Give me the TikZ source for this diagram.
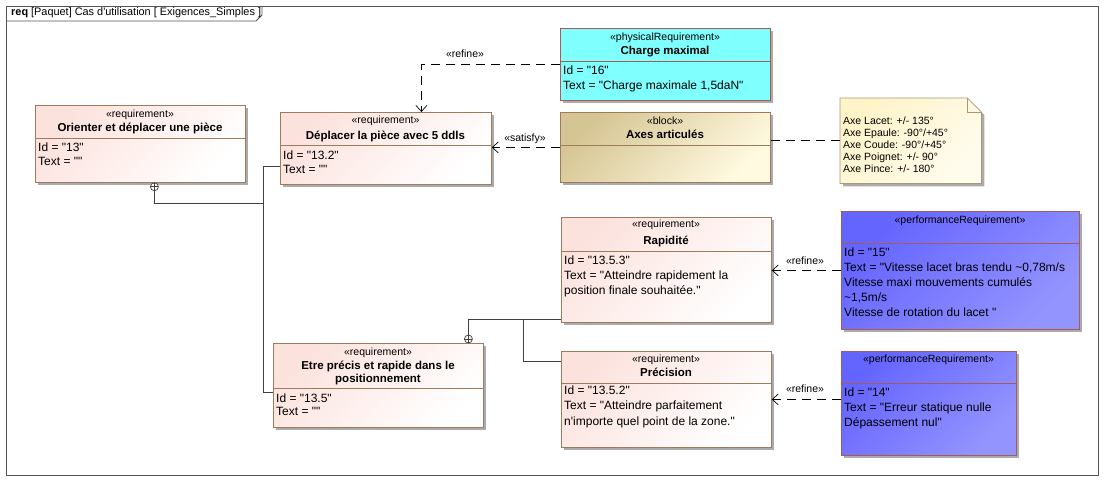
\documentclass[tikz,border=0pt]{standalone}
\usepackage{fontspec}
\newfontfamily\ui{Liberation Sans}
\usetikzlibrary{arrows.meta,shadows}
\definecolor{reqpink}{HTML}{FCE2DD}
\definecolor{reqborder}{HTML}{9C7C5C}
\definecolor{redborder}{HTML}{A85A55}
\definecolor{chargecyan}{HTML}{80FFFF}
\definecolor{blocktan}{HTML}{D6C594}
\definecolor{blocklight}{HTML}{FFFAE0}
\definecolor{notedark}{HTML}{FFF3C8}
\definecolor{notelight}{HTML}{FFFCEE}
\definecolor{noteborder}{HTML}{A89A78}
\definecolor{perfdark}{HTML}{6464FF}
\definecolor{perflight}{HTML}{9494FF}
\definecolor{shadowgray}{HTML}{ABABAB}
\definecolor{linegray}{HTML}{404040}
\definecolor{framegray}{HTML}{555555}
\newcommand\bodylines[5]{%
  \foreach \txt [count=\i from 0] in {#5} {\node[bodytxt] (#1-\i) at (#2, #3+#4*\i) {\txt};}}
\newcommand\divider[3]{%
  \draw[#3] ([yshift=-#2pt]#1.north west) -- ([yshift=-#2pt]#1.north east);}
\begin{document}
\begin{tikzpicture}[x=1pt,y=-1pt,
  box/.style={rectangle, inner sep=0, anchor=north west, line width=0.8pt,
    general shadow={fill=shadowgray, shadow xshift=3pt, shadow yshift=-3pt}},
  req/.style={box, draw=reqborder, top color=reqpink, bottom color=white, shading angle=45},
  phys/.style={box, draw=redborder, fill=chargecyan},
  blk/.style={box, draw=reqborder, top color=blocktan, bottom color=blocklight, shading angle=45},
  perf/.style={box, draw=redborder, top color=perfdark, bottom color=perflight, shading angle=45},
  reqline/.style={draw=reqborder, line width=0.8pt},
  redline/.style={draw=redborder, line width=0.8pt},
  stereotxt/.style={font=\ui\fontsize{10.5}{12}\selectfont, inner sep=0, anchor=mid},
  titletxt/.style={font=\ui\bfseries\fontsize{11.5}{13}\selectfont, inner sep=0, anchor=mid},
  bodytxt/.style={font=\ui\fontsize{12}{15}\selectfont, inner sep=0, anchor=mid west},
  notetxt/.style={font=\ui\fontsize{10.5}{12}\selectfont, inner sep=0, anchor=mid west},
  labtxt/.style={font=\ui\fontsize{10.5}{12}\selectfont, inner sep=0, anchor=mid},
  dep/.style={draw=black, line width=0.7pt, dash pattern=on 9pt off 6pt},
  deparrow/.style={dep, -{Straight Barb[length=6pt,width=11pt,line width=0.7pt]}},
  contain/.style={draw=linegray, line width=0.8pt},
  own/.style={circle, draw=linegray, line width=0.7pt, fill=white, minimum size=8pt, inner sep=0,
    path picture={\draw[linegray, line width=0.7pt] (path picture bounding box.north) -- (path picture bounding box.south)
      (path picture bounding box.west) -- (path picture bounding box.east);}},
  frameline/.style={draw=framegray, line width=0.8pt}
]
\useasboundingbox (0,0) rectangle (1113,490);
% frame
\draw[frameline] (6,6) rectangle (1098,475);
\draw[frameline] (6,21) -- (256,21) -- (262,15) -- (262,6);
\node[font=\ui\fontsize{10.9}{13}\selectfont, inner sep=0, anchor=mid west] (ftitle) at (11,13.5)
  {{\bfseries req} [Paquet] Cas d'utilisation [ Exigences\_Simples ]};

% Orienter
\node[req, minimum width=210pt, minimum height=77pt] (orient) at (35,105) {};
\divider{orient}{33}{reqline}
\node[stereotxt] (orient-s) at (140,115) {«requirement»};
\node[titletxt] (orient-t) at (140,129) {Orienter et déplacer une pièce};
\bodylines{orient}{38}{149}{14}{{Id = "13"},{Text = ""}}

% Deplacer
\node[req, minimum width=211pt, minimum height=72pt] (depl) at (280,112) {};
\divider{depl}{33}{reqline}
\node[stereotxt] (depl-s) at (385.5,121) {«requirement»};
\node[titletxt] (depl-t) at (385.5,137) {Déplacer la pièce avec 5 ddls};
\bodylines{depl}{283}{157}{14}{{Id = "13.2"},{Text = ""}}

% Charge maximal
\node[phys, minimum width=210pt, minimum height=72pt] (charge) at (560,28) {};
\divider{charge}{33}{redline}
\node[stereotxt] (charge-s) at (665,38) {«physicalRequirement»};
\node[titletxt] (charge-t) at (665,52) {Charge maximal};
\bodylines{charge}{563}{72}{15}{{Id = "16"},{Text = "Charge maximale 1,5daN"}}

% Axes articules
\node[blk, minimum width=210pt, minimum height=70pt] (axes) at (560,112) {};
\divider{axes}{33}{reqline}
\node[stereotxt] (axes-s) at (665,122) {«block»};
\node[titletxt] (axes-t) at (665,136) {Axes articulés};

% Note
\node[inner sep=0, anchor=north west, minimum width=141pt, minimum height=85pt] (note) at (840,98) {};
\fill[shadowgray] ([shift={(3pt,-3pt)}]note.north west) -- ([shift={(-11pt,-3pt)}]note.north east)
  -- ([shift={(3pt,-17pt)}]note.north east) -- ([shift={(3pt,-3pt)}]note.south east)
  -- ([shift={(3pt,-3pt)}]note.south west) -- cycle;
\shade[top color=notedark, bottom color=notelight, shading angle=45, draw=noteborder, line width=0.8pt]
  (note.north west) -- ([xshift=-14pt]note.north east) -- ([yshift=-14pt]note.north east)
  -- (note.south east) -- (note.south west) -- cycle;
\draw[draw=noteborder, line width=0.8pt] ([xshift=-14pt]note.north east) -- ([xshift=-14pt,yshift=-14pt]note.north east)
  -- ([yshift=-14pt]note.north east);
\foreach \txt [count=\i from 0] in {{Axe Lacet: +/- 135°},{Axe Epaule: -90°/+45°},{Axe Coude: -90°/+45°},{Axe Poignet: +/- 90°},{Axe Pince: +/- 180°}}
  {\node[notetxt] (note-\i) at (843,122+12*\i) {\txt};}

% Rapidite
\node[req, minimum width=210pt, minimum height=105pt] (rap) at (561,217) {};
\divider{rap}{34}{reqline}
\node[stereotxt] (rap-s) at (666,225.5) {«requirement»};
\node[titletxt] (rap-t) at (666,242) {Rapidité};
\bodylines{rap}{564}{262}{15}{{Id = "13.5.3"},{Text = "Atteindre rapidement la},{position finale souhaitée."}}

% Perf 15
\node[perf, minimum width=238pt, minimum height=118pt] (perfa) at (841,211) {};
\divider{perfa}{32}{redline}
\node[stereotxt] (perfa-s) at (960,221) {«performanceRequirement»};
\bodylines{perfa}{844}{254}{15}{{Id = "15"},{Text = "Vitesse lacet bras tendu \textasciitilde0,78m/s},{Vitesse maxi mouvements cumulés},{\textasciitilde1,5m/s},{Vitesse de rotation du lacet "}}

% Etre precis
\node[req, minimum width=210pt, minimum height=84pt] (etre) at (273,343) {};
\divider{etre}{45}{reqline}
\node[stereotxt] (etre-s) at (378,353) {«requirement»};
\node[titletxt] (etre-t) at (378,367) {Etre précis et rapide dans le};
\node[titletxt] (etre-t2) at (378,380) {positionnement};
\bodylines{etre}{276}{400}{13.5}{{Id = "13.5"},{Text = ""}}

% Precision
\node[req, minimum width=210pt, minimum height=96pt] (prec) at (561,351) {};
\divider{prec}{32}{reqline}
\node[stereotxt] (prec-s) at (666,360) {«requirement»};
\node[titletxt] (prec-t) at (666,374) {Précision};
\bodylines{prec}{564}{392}{15.5}{{Id = "13.5.2"},{Text = "Atteindre parfaitement},{n'importe quel point de la zone."}}

% Perf 14
\node[perf, minimum width=175pt, minimum height=104pt] (perfb) at (841,351) {};
\divider{perfb}{32}{redline}
\node[stereotxt] (perfb-s) at (928.5,360) {«performanceRequirement»};
\bodylines{perfb}{844}{394}{15}{{Id = "14"},{Text = "Erreur statique nulle},{Dépassement nul"}}

% dependencies
\draw[deparrow] (charge.west) -| ([xshift=35.5pt]depl.north);
\node[labtxt] (lref1) at (465,55) {«refine»};
\draw[deparrow] (axes.west) -- (axes.west -| depl.east);
\node[labtxt] (lsat) at (525,139) {«satisfy»};
\draw[dep] (note.west -| axes.east) -- (note.west);
\draw[deparrow] (perfa.west) -- (perfa.west -| rap.east);
\node[labtxt] (lref2) at (805,262) {«refine»};
\draw[deparrow] (prec.east -| perfb.west) -- (prec.east);
\node[labtxt] (lref3) at (805,390) {«refine»};

% containment
\node[own] (o1) at ([xshift=14pt,yshift=-4pt]orient.south) {};
\coordinate (jn) at (263,203);
\draw[contain] (o1.south) |- (jn);
\draw[contain] ([yshift=-18pt]depl.west) -| ([xshift=-10pt,yshift=-7pt]etre.west) -- ([yshift=-7pt]etre.west);
\node[own] (o2) at ([xshift=90pt,yshift=4pt]etre.north) {};
\draw[contain] (o2.north) |- ([yshift=3pt]rap.south west);
\coordinate (jr) at (523,319);
\draw[contain] (jr) |- ([yshift=-10pt]prec.north west);
\end{tikzpicture}
\end{document}
